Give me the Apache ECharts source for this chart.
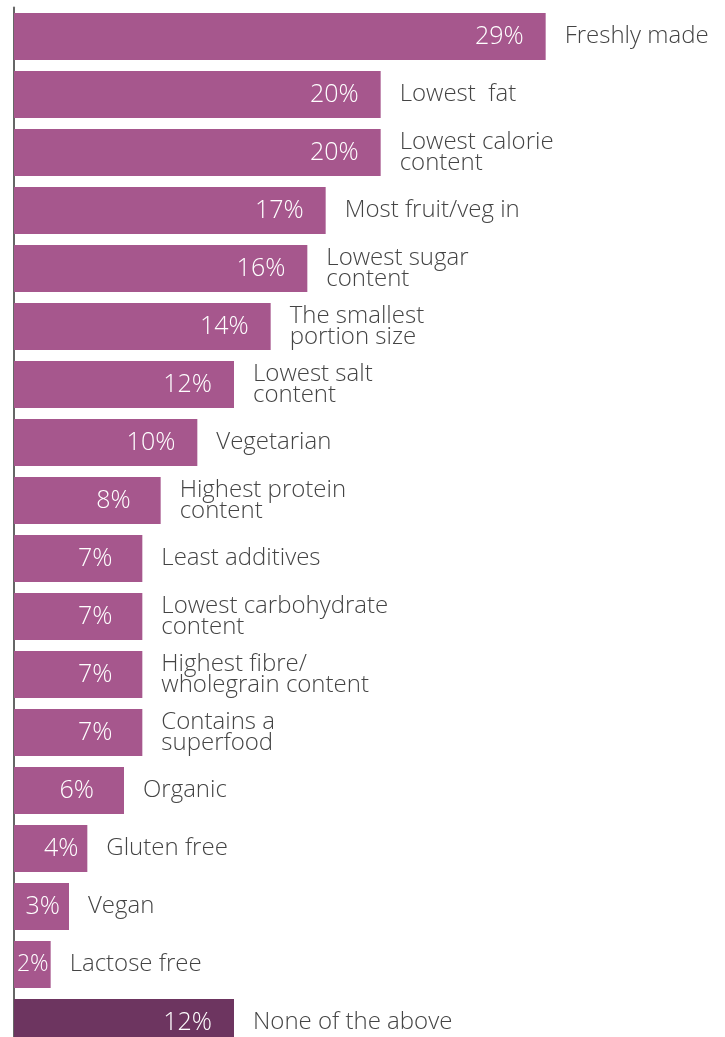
<!DOCTYPE html>
<html>
<head>
<meta charset="utf-8">
<script src="https://cdn.jsdelivr.net/npm/echarts@6/dist/echarts.min.js"></script>
<style>html,body{margin:0;padding:0;background:#fff;overflow:hidden;height:1037px}#c{width:725px;height:1052px}</style>
</head>
<body>
<div id="c"></div>
<script>
const categories = [
  'Freshly made', 'Lowest  fat', 'Lowest calorie\ncontent', 'Most fruit/veg in',
  'Lowest sugar\ncontent', 'The smallest\nportion size', 'Lowest salt\ncontent', 'Vegetarian',
  'Highest protein\ncontent', 'Least additives', 'Lowest carbohydrate\ncontent',
  'Highest fibre/\nwholegrain content', 'Contains a\nsuperfood', 'Organic', 'Gluten free',
  'Vegan', 'Lactose free', 'None of the above'
];
const values = [29, 20, 20, 17, 16, 14, 12, 10, 8, 7, 7, 7, 7, 6, 4, 3, 2, 12];
const highlightIndex = 17;

const barColor = '#A6578D';
const darkColor = '#6D3560';

function valueLabelStyle(v) {
  if (v >= 10) return { distance: 22, fontSize: 25 };
  if (v >= 5) return { distance: 30, fontSize: 25 };
  if (v >= 3) return { distance: 9, fontSize: 25 };
  return { distance: 2, fontSize: 23 };
}

const mainData = values.map((v, i) => ({
  value: v,
  itemStyle: { color: i === highlightIndex ? darkColor : barColor },
  label: valueLabelStyle(v)
}));

const chart = echarts.init(document.getElementById('c'), null, { renderer: 'canvas' });
chart.setOption({
  animation: false,
  grid: { left: 14, top: 7.5, width: 550, height: 1044, containLabel: false },
  xAxis: { type: 'value', min: 0, max: 30, show: false },
  yAxis: {
    type: 'category', data: categories, inverse: true,
    axisLine: { show: true, lineStyle: { color: '#666666', width: 2 } },
    axisTick: { show: false }, axisLabel: { show: false }, splitLine: { show: false }
  },
  series: [
    {
      type: 'bar', data: mainData, barWidth: 47, barGap: '-100%',
      label: {
        show: true, position: 'insideRight', color: '#ffffff',
        fontFamily: 'Open Sans', fontWeight: 300,
        formatter: p => p.value + '%'
      }
    },
    {
      type: 'bar', data: values, barWidth: 47, barGap: '-100%',
      itemStyle: { color: 'rgba(0,0,0,0)' }, silent: true,
      label: {
        show: true, position: 'right', distance: 19, color: '#444444',
        fontFamily: 'Open Sans', fontWeight: 300, fontSize: 24, lineHeight: 21,
        formatter: p => categories[p.dataIndex]
      }
    }
  ]
});
</script>
</body>
</html>
